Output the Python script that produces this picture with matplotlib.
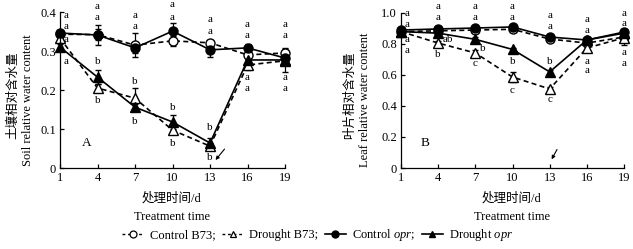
import matplotlib
matplotlib.use('Agg')
import matplotlib.pyplot as plt
from matplotlib.lines import Line2D

plt.rcParams['font.family'] = ['Liberation Serif', 'Noto Sans CJK SC']
plt.rcParams['mathtext.fontset'] = 'custom'
plt.rcParams['mathtext.rm'] = 'Liberation Serif'
plt.rcParams['mathtext.it'] = 'Liberation Serif:italic'

days = [1, 4, 7, 10, 13, 16, 19]

# soil relative water content (panel A)
soil_ctrl_b73 = [0.343, 0.342, 0.315, 0.326, 0.321, 0.290, 0.295]
soil_ctrl_b73_err = [0.008, 0.015, 0.030, 0.012, 0.008, 0.010, 0.012]
soil_drt_b73 = [0.333, 0.205, 0.179, 0.097, 0.056, 0.264, 0.275]
soil_drt_b73_err = [0.008, 0.010, 0.025, 0.010, 0.008, 0.012, 0.030]
soil_ctrl_opr = [0.346, 0.341, 0.308, 0.351, 0.303, 0.308, 0.282]
soil_ctrl_opr_err = [0.008, 0.025, 0.012, 0.020, 0.018, 0.010, 0.012]
soil_drt_opr = [0.310, 0.233, 0.156, 0.118, 0.064, 0.277, 0.277]
soil_drt_opr_err = [0.008, 0.018, 0.008, 0.018, 0.012, 0.010, 0.010]

# leaf relative water content (panel B)
leaf_ctrl_b73 = [0.880, 0.885, 0.890, 0.895, 0.832, 0.806, 0.845]
leaf_ctrl_b73_err = [0.015, 0.015, 0.012, 0.015, 0.020, 0.012, 0.050]
leaf_drt_b73 = [0.880, 0.806, 0.742, 0.587, 0.510, 0.774, 0.840]
leaf_drt_b73_err = [0.012, 0.015, 0.020, 0.030, 0.015, 0.015, 0.020]
leaf_ctrl_opr = [0.890, 0.897, 0.903, 0.910, 0.845, 0.826, 0.877]
leaf_ctrl_opr_err = [0.012, 0.020, 0.015, 0.020, 0.012, 0.015, 0.015]
leaf_drt_opr = [0.880, 0.870, 0.830, 0.765, 0.620, 0.826, 0.870]
leaf_drt_opr_err = [0.012, 0.012, 0.012, 0.012, 0.012, 0.012, 0.012]

# significance letters (day, y, text)
soil_letters = [(1.5, 0.392, 'a'), (1.5, 0.362, 'a'), (1.5, 0.330, 'a'), (1.5, 0.272, 'a'),
                (4, 0.415, 'a'), (4, 0.387, 'a'), (4, 0.272, 'b'), (4, 0.172, 'b'),
                (7, 0.392, 'a'), (7, 0.362, 'a'), (7, 0.221, 'b'), (7, 0.118, 'b'),
                (10, 0.418, 'a'), (10, 0.387, 'a'), (10, 0.156, 'b'), (10, 0.062, 'b'),
                (13, 0.382, 'a'), (13, 0.349, 'a'), (13, 0.103, 'b'), (13, 0.028, 'b'),
                (16, 0.367, 'a'), (16, 0.341, 'a'), (16, 0.231, 'a'), (16, 0.205, 'a'),
                (19, 0.369, 'a'), (19, 0.341, 'a'), (19, 0.231, 'a'), (19, 0.205, 'a')]
leaf_letters = [(1.5, 0.994, 'a'), (1.5, 0.923, 'a'), (1.5, 0.832, 'a'), (1.5, 0.761, 'a'),
                (4, 1.045, 'a'), (4, 0.974, 'a'), (4.8, 0.826, 'ab'), (4, 0.735, 'b'),
                (7, 1.045, 'a'), (7, 0.974, 'a'), (7.6, 0.774, 'b'), (7, 0.677, 'c'),
                (10, 1.045, 'a'), (10, 0.974, 'a'), (10, 0.684, 'b'), (10, 0.503, 'c'),
                (13, 0.987, 'a'), (13, 0.916, 'a'), (13, 0.684, 'b'), (13, 0.439, 'c'),
                (16, 0.955, 'a'), (16, 0.884, 'a'), (16, 0.684, 'a'), (16, 0.632, 'a'),
                (19, 0.994, 'a'), (19, 0.935, 'a'), (19, 0.742, 'a'), (19, 0.677, 'a')]


def draw_series(ax, y, err, ls, marker, face):
    ax.errorbar(days, y, yerr=err, color='black', ls=ls, lw=1.2, marker=marker,
                markersize=6.5, markerfacecolor=face, markeredgecolor='black',
                markeredgewidth=1.0, capsize=2, elinewidth=0.9, capthick=0.9,
                dashes=(3, 2) if ls == '--' else (None, None), clip_on=False)


def style_axis(ax, ymax, yticks, yticklabels):
    ax.set_xlim(1, 19)
    ax.set_ylim(0, ymax)
    ax.set_xticks(days)
    ax.set_yticks(yticks)
    ax.set_yticklabels(yticklabels)
    for s in ['top', 'right']:
        ax.spines[s].set_visible(False)
    ax.spines['left'].set_linewidth(0.9)
    ax.spines['bottom'].set_linewidth(0.9)
    ax.tick_params(direction='in', length=3, width=0.9, labelsize=9, pad=3)


fig = plt.figure(figsize=(6.33, 2.49), dpi=100)
axA = fig.add_axes([0.0948, 0.3253, 0.3555, 0.6265])
axB = fig.add_axes([0.6335, 0.3253, 0.3523, 0.6225])

draw_series(axA, soil_ctrl_b73, soil_ctrl_b73_err, '--', 'o', 'white')
draw_series(axA, soil_drt_b73, soil_drt_b73_err, '--', '^', 'white')
draw_series(axA, soil_ctrl_opr, soil_ctrl_opr_err, '-', 'o', 'black')
draw_series(axA, soil_drt_opr, soil_drt_opr_err, '-', '^', 'black')

draw_series(axB, leaf_ctrl_b73, leaf_ctrl_b73_err, '--', 'o', 'white')
draw_series(axB, leaf_drt_b73, leaf_drt_b73_err, '--', '^', 'white')
draw_series(axB, leaf_ctrl_opr, leaf_ctrl_opr_err, '-', 'o', 'black')
draw_series(axB, leaf_drt_opr, leaf_drt_opr_err, '-', '^', 'black')

style_axis(axA, 0.4, [0, 0.1, 0.2, 0.3, 0.4], ['0', '0.1', '0.2', '0.3', '0.4'])
style_axis(axB, 1.0, [0, 0.2, 0.4, 0.6, 0.8, 1.0], ['0', '0.2', '0.4', '0.6', '0.8', '1.0'])

for x, y, t in soil_letters:
    axA.text(x, y, t, ha='center', va='center', fontsize=8, clip_on=False)
for x, y, t in leaf_letters:
    axB.text(x, y, t, ha='center', va='center', fontsize=8, clip_on=False)

axA.text(3.1, 0.064, 'A', ha='center', va='center', fontsize=9.5)
axB.text(2.95, 0.16, 'B', ha='center', va='center', fontsize=9.5)

arrow = dict(arrowstyle='-|>', color='black', lw=0.8, mutation_scale=5)
axA.annotate('', xy=(13.3, 0.015), xytext=(14.3, 0.054), arrowprops=arrow)
axB.annotate('', xy=(13.05, 0.04), xytext=(13.7, 0.135), arrowprops=arrow)

# axis titles
fig.text(13 / 633, 1 - 95 / 249, '土壤相对含水量', rotation=90, ha='center', va='center', fontsize=9)
fig.text(28 / 633, 1 - 100 / 249, 'Soil relative water content', rotation=90, ha='center', va='center', fontsize=9)
fig.text(350 / 633, 1 - 95 / 249, '叶片相对含水量', rotation=90, ha='center', va='center', fontsize=9)
fig.text(365 / 633, 1 - 100 / 249, 'Leaf relative water content', rotation=90, ha='center', va='center', fontsize=9)

for cx in [172, 512]:
    fig.text(cx / 633, 1 - 198 / 249, '处理时间/d', ha='center', va='center', fontsize=9)
    fig.text(cx / 633, 1 - 217 / 249, 'Treatment time', ha='center', va='center', fontsize=9)

handles = [
    Line2D([], [], color='black', ls='--', dashes=(2, 2), lw=1, marker='o', markersize=5,
           markerfacecolor='white', markeredgewidth=0.9),
    Line2D([], [], color='black', ls='--', dashes=(2, 2), lw=1, marker='^', markersize=5,
           markerfacecolor='white', markeredgewidth=0.9),
    Line2D([], [], color='black', ls='-', lw=1.2, marker='o', markersize=5, markerfacecolor='black'),
    Line2D([], [], color='black', ls='-', lw=1.2, marker='^', markersize=5, markerfacecolor='black'),
]
labels = ['Control B73;', 'Drought B73;', r'Control $\mathit{opr}$;', r'Drought $\mathit{opr}$']
fig.legend(handles, labels, loc='center', bbox_to_anchor=(318 / 633, 1 - 235 / 249), ncol=4,
           frameon=False, fontsize=9, handlelength=1.7, handletextpad=0.5, columnspacing=0.5,
           borderpad=0, borderaxespad=0)

fig.savefig('out.png', dpi=100)
